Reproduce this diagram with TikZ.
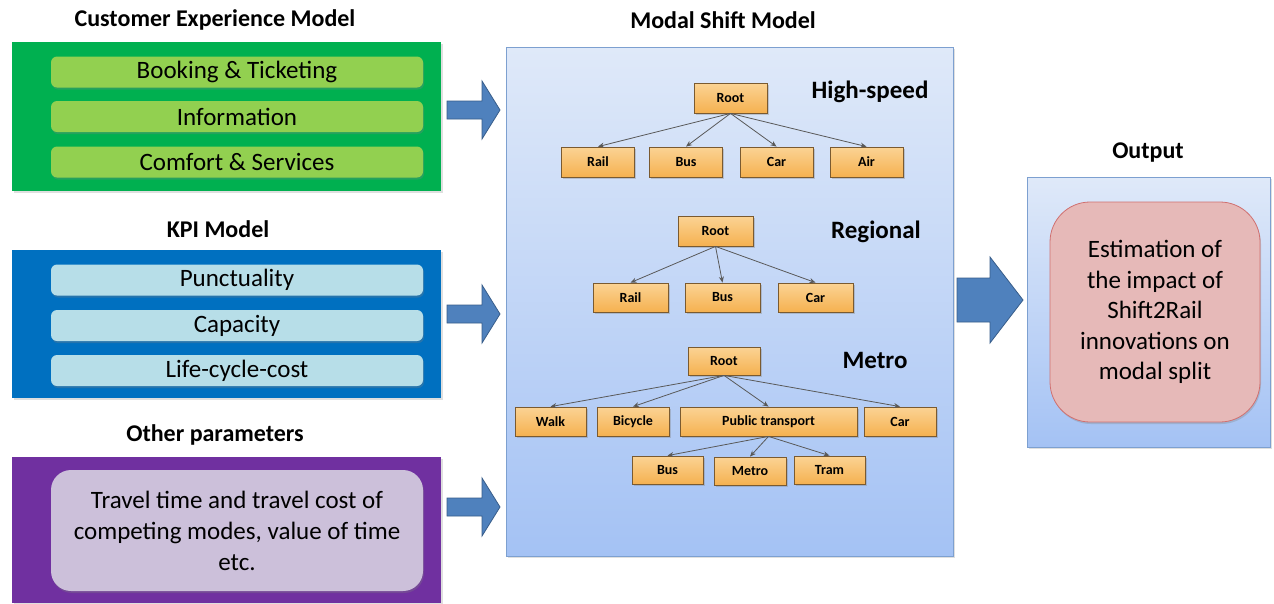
\documentclass[tikz,border=0pt]{standalone}
\usepackage{fontspec}
\setmainfont{Carlito}
\usetikzlibrary{shadows,arrows.meta}
\definecolor{cgreen}{HTML}{00B050}
\definecolor{cgreenl}{HTML}{92D050}
\definecolor{cblue}{HTML}{0070C0}
\definecolor{cbluel}{HTML}{B7DEE8}
\definecolor{cpurple}{HTML}{7030A0}
\definecolor{cpurplel}{HTML}{CCC0DA}
\definecolor{arrowf}{HTML}{4F81BD}
\definecolor{arrowd}{HTML}{385D8A}
\definecolor{msTop}{HTML}{DFE9F9}
\definecolor{msBot}{HTML}{A4C2F4}
\definecolor{msBorder}{HTML}{7DA0D0}
\definecolor{orTop}{HTML}{FBD394}
\definecolor{orBot}{HTML}{F5B150}
\definecolor{orBorder}{HTML}{7A5A30}
\definecolor{pinkF}{HTML}{E6B9B8}
\definecolor{pinkD}{HTML}{D07070}
\definecolor{edgeC}{HTML}{595959}
\newcommand{\blockarrow}[6]{%
  \fill[arrowf, draw=arrowd, line width=0.8pt]
    (#1,#4-#5) -- (#2,#4-#5) -- (#2,#4-#6) -- (#3,#4) -- (#2,#4+#6)
    -- (#2,#4+#5) -- (#1,#4+#5) -- cycle;}
\tikzset{
  ttl/.style={font=\bfseries\fontsize{24}{28}\selectfont},
  lbl/.style={font=\bfseries\fontsize{25}{29}\selectfont},
  outerbox/.style={inner sep=0pt, drop shadow={shadow xshift=1.5pt, shadow yshift=-1.5pt, opacity=0.25}},
  pill/.style={rounded corners=6pt, minimum width=372pt, minimum height=31pt, inner sep=0pt,
    font=\fontsize{25}{29}\selectfont,
    drop shadow={shadow xshift=1pt, shadow yshift=-2pt, opacity=0.3}},
  tnode/.style={draw=orBorder, line width=0.8pt, top color=orTop, bottom color=orBot,
    minimum width=73pt, minimum height=30pt, inner sep=0pt,
    font=\bfseries\fontsize{14}{16}\selectfont,
    drop shadow={shadow xshift=1.5pt, shadow yshift=-1.5pt, opacity=0.35}},
  edge/.style={draw=edgeC, line width=0.8pt, -{Stealth[length=6pt,width=5pt]}}
}
\begin{document}
\begin{tikzpicture}[x=1pt,y=-1pt]
\useasboundingbox[fill=white] (0,0) rectangle (1274,603);

% ---- Customer Experience Model
\node[ttl] (t1) at (215,20) {Customer Experience Model};
\node[outerbox, fill=cgreen, minimum width=429pt, minimum height=149pt] (cem) at (226.5,116.5) {};
\node[pill, fill=cgreenl] (book) at (237,72) {Booking \& Ticketing};
\node[pill, fill=cgreenl] (info) at (237,116.5) {Information};
\node[pill, fill=cgreenl] (comf) at (237,162) {Comfort \& Services};

% ---- KPI Model
\node[ttl] (t2) at (218,229) {KPI Model};
\node[outerbox, fill=cblue, minimum width=429pt, minimum height=148pt] (kpi) at (226.5,324) {};
\node[pill, fill=cbluel] (punc) at (237,280) {Punctuality};
\node[pill, fill=cbluel] (capa) at (237,325.5) {Capacity};
\node[pill, fill=cbluel] (life) at (237,370.5) {Life-cycle-cost};

% ---- Other parameters
\node[ttl] (t3) at (215,435) {Other parameters};
\node[outerbox, fill=cpurple, minimum width=429pt, minimum height=146pt] (oth) at (226.5,530) {};
\node[pill, fill=cpurplel, rounded corners=20pt, minimum height=121pt, align=center,
  font=\fontsize{25}{31}\selectfont] (trav) at (237,530.5)
  {Travel time and travel cost of\\competing modes, value of time\\etc.};

% ---- input arrows
\blockarrow{447}{482}{500}{110}{9}{29}
\blockarrow{447}{482}{500}{314}{9}{29}
\blockarrow{447}{482}{500}{507}{9}{29}

% ---- Modal Shift Model
\node[ttl] (t4) at (723,20) {Modal Shift Model};
\node[outerbox, draw=msBorder, line width=0.8pt, top color=msTop, bottom color=msBot,
  minimum width=447pt, minimum height=509pt] (msm) at (729.5,301.5) {};

% High-speed
\node[lbl] (hsl) at (870,92) {High-speed};
\node[tnode] (hroot) at (730.5,98) {Root};
\node[tnode] (hrail) at (598,162) {Rail};
\node[tnode] (hbus) at (686,162) {Bus};
\node[tnode] (hcar) at (776.5,162) {Car};
\node[tnode] (hair) at (866.5,162) {Air};
\foreach \c in {hrail,hbus,hcar,hair} \draw[edge] (hroot.south) -- (\c.north);

% Regional
\node[lbl] (rgl) at (876,232) {Regional};
\node[tnode, minimum width=75pt] (rroot) at (715.5,231) {Root};
\node[tnode, minimum width=75pt, minimum height=29pt] (rrail) at (630.5,297.5) {Rail};
\node[tnode, minimum width=75pt, minimum height=29pt] (rbus) at (722.5,297.5) {Bus};
\node[tnode, minimum width=75pt, minimum height=29pt] (rcar) at (815.5,297.5) {Car};
\foreach \c in {rrail,rbus,rcar} \draw[edge] (rroot.south) -- (\c.north);

% Metro
\node[lbl] (mtl) at (875,360) {Metro};
\node[tnode, minimum width=72pt, minimum height=28pt] (mroot) at (724,361) {Root};
\node[tnode, minimum width=71pt, minimum height=29pt] (mwalk) at (550.5,421.5) {Walk};
\node[tnode, minimum width=72pt, minimum height=29pt] (mbike) at (633,421.5) {Bicycle};
\node[tnode, minimum width=177pt, minimum height=29pt] (mpt) at (768.5,421.5) {Public transport};
\node[tnode, minimum width=72pt, minimum height=29pt] (mcar) at (900,421.5) {Car};
\node[tnode, minimum width=71pt, minimum height=28pt] (mbus) at (667.5,470) {Bus};
\node[tnode, minimum width=72pt, minimum height=28pt] (mmet) at (750,471) {Metro};
\node[tnode, minimum width=71pt, minimum height=28pt] (mtram) at (829.5,470) {Tram};
\foreach \c in {mwalk,mbike,mpt,mcar} \draw[edge] (mroot.south) -- (\c.north);
\foreach \c in {mbus,mmet,mtram} \draw[edge] (mpt.south) -- (\c.north);

% ---- output arrow
\blockarrow{957}{990}{1023}{300}{22}{43}

% ---- Output
\node[ttl] (t5) at (1148,153) {Output};
\node[outerbox, draw=msBorder, line width=0.8pt, top color=msTop, bottom color=msBot,
  minimum width=243pt, minimum height=270pt] (outb) at (1148.5,312) {};
\node[draw=pinkD, line width=0.8pt, fill=pinkF, rounded corners=40pt,
  minimum width=210pt, minimum height=220pt, inner sep=0pt, align=center,
  font=\fontsize{25}{30.5}\selectfont,
  drop shadow={shadow xshift=1pt, shadow yshift=-2pt, opacity=0.3}] (est) at (1155,312)
  {Estimation of\\the impact of\\Shift2Rail\\innovations on\\modal split};
\end{tikzpicture}
\end{document}
